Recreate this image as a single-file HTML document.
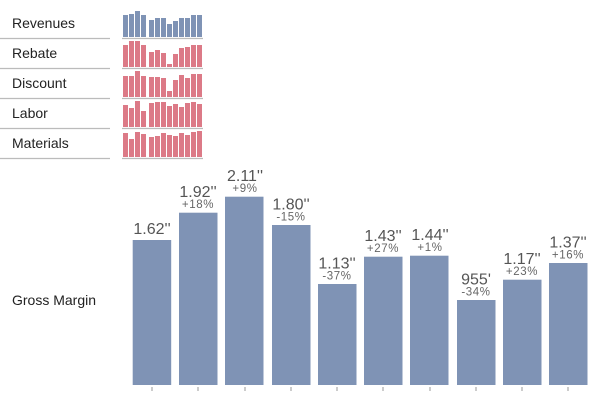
<!DOCTYPE html>
<html><head><meta charset="utf-8"><style>
html,body{margin:0;padding:0;background:#fff;}
svg{display:block;font-family:"Liberation Sans",sans-serif;}
</style></head><body>
<svg width="600" height="400" viewBox="0 0 600 400" xmlns="http://www.w3.org/2000/svg">
<g font-size="14" fill="#222">
<text x="12" y="28">Revenues</text>
<text x="12" y="58">Rebate</text>
<text x="12" y="88">Discount</text>
<text x="12" y="118">Labor</text>
<text x="12" y="148">Materials</text>
<text x="12" y="305" font-size="14">Gross Margin</text>
</g>
<g stroke="#bbb" stroke-width="1.2">
<line x1="0" x2="110" y1="38.5" y2="38.5"/><line x1="122" x2="203" y1="38.5" y2="38.5"/>
<line x1="0" x2="110" y1="68.5" y2="68.5"/><line x1="122" x2="203" y1="68.5" y2="68.5"/>
<line x1="0" x2="110" y1="98.5" y2="98.5"/><line x1="122" x2="203" y1="98.5" y2="98.5"/>
<line x1="0" x2="110" y1="128.5" y2="128.5"/><line x1="122" x2="203" y1="128.5" y2="128.5"/>
<line x1="0" x2="110" y1="158.5" y2="158.5"/><line x1="122" x2="203" y1="158.5" y2="158.5"/>
</g>
<g fill="#7f93b5">
<rect x="132.7" y="240" width="38.5" height="145"/>
<rect x="179" y="212.7" width="38.5" height="172.3"/>
<rect x="225" y="196.7" width="38.5" height="188.3"/>
<rect x="272" y="225" width="38.5" height="160"/>
<rect x="318" y="284" width="38.5" height="101"/>
<rect x="364" y="256.7" width="38.5" height="128.3"/>
<rect x="410" y="255.7" width="38.5" height="129.3"/>
<rect x="457" y="300" width="38.5" height="85"/>
<rect x="503" y="279.7" width="38.5" height="105.3"/>
<rect x="549" y="263" width="38.5" height="122"/>
</g>
<g stroke="#999" stroke-width="1">
<line x1="152" x2="152" y1="387" y2="391"/><line x1="198" x2="198" y1="387" y2="391"/>
<line x1="245" x2="245" y1="387" y2="391"/><line x1="291" x2="291" y1="387" y2="391"/>
<line x1="337" x2="337" y1="387" y2="391"/><line x1="383" x2="383" y1="387" y2="391"/>
<line x1="430" x2="430" y1="387" y2="391"/><line x1="476" x2="476" y1="387" y2="391"/>
<line x1="522" x2="522" y1="387" y2="391"/><line x1="568" x2="568" y1="387" y2="391"/>
</g>
<g fill="#555" text-anchor="middle" font-size="16">
<text x="152" y="234">1.62''</text>
<text x="198" y="197">1.92''</text>
<text x="245" y="181">2.11''</text>
<text x="291" y="209.5">1.80''</text>
<text x="337" y="268.5">1.13''</text>
<text x="383" y="241">1.43''</text>
<text x="430" y="240">1.44''</text>
<text x="476" y="284.5">955'</text>
<text x="522" y="264">1.17''</text>
<text x="568" y="247.5">1.37''</text>
</g>
<g fill="#666" text-anchor="middle" font-size="11.5" letter-spacing="0.6">
<text x="198" y="208">+18%</text>
<text x="245" y="192">+9%</text>
<text x="291" y="220.5">-15%</text>
<text x="337" y="279.5">-37%</text>
<text x="383" y="252">+27%</text>
<text x="430" y="251">+1%</text>
<text x="476" y="295.5">-34%</text>
<text x="522" y="275">+23%</text>
<text x="568" y="258.5">+16%</text>
</g>
<g fill="#7f93b5">
<rect x="123" y="15" width="5" height="22"/><rect x="129" y="14" width="5" height="23"/><rect x="135" y="11" width="5" height="26"/><rect x="141" y="15" width="5" height="22"/>
<rect x="149" y="20" width="5" height="17"/><rect x="155" y="18" width="5" height="19"/><rect x="161" y="18" width="5" height="19"/><rect x="167" y="24" width="5" height="13"/><rect x="173" y="21" width="5" height="16"/><rect x="179" y="18" width="5" height="19"/><rect x="185" y="18" width="5" height="19"/><rect x="191" y="15" width="5" height="22"/><rect x="197" y="15" width="5" height="22"/>
</g>
<g fill="#dc7a87">
<rect x="123" y="45" width="5" height="22"/><rect x="129" y="41" width="5" height="26"/><rect x="135" y="41" width="5" height="26"/><rect x="141" y="45" width="5" height="22"/>
<rect x="149" y="52" width="5" height="15"/><rect x="155" y="50" width="5" height="17"/><rect x="161" y="53" width="5" height="14"/><rect x="167" y="64" width="5" height="3"/><rect x="173" y="54" width="5" height="13"/><rect x="179" y="48" width="5" height="19"/><rect x="185" y="47" width="5" height="20"/><rect x="191" y="45" width="5" height="22"/><rect x="197" y="45" width="5" height="22"/>
<rect x="123" y="76" width="5" height="21"/><rect x="129" y="76" width="5" height="21"/><rect x="135" y="71" width="5" height="26"/><rect x="141" y="76" width="5" height="21"/>
<rect x="149" y="77" width="5" height="20"/><rect x="155" y="77" width="5" height="20"/><rect x="161" y="78" width="5" height="19"/><rect x="167" y="91" width="5" height="6"/><rect x="173" y="80" width="5" height="17"/><rect x="179" y="75" width="5" height="22"/><rect x="185" y="78" width="5" height="19"/><rect x="191" y="74" width="5" height="23"/><rect x="197" y="74" width="5" height="23"/>
<rect x="123" y="105" width="5" height="22"/><rect x="129" y="108" width="5" height="19"/><rect x="135" y="101" width="5" height="26"/><rect x="141" y="111" width="5" height="16"/>
<rect x="149" y="103" width="5" height="24"/><rect x="155" y="102" width="5" height="25"/><rect x="161" y="102" width="5" height="25"/><rect x="167" y="106" width="5" height="21"/><rect x="173" y="104" width="5" height="23"/><rect x="179" y="107" width="5" height="20"/><rect x="185" y="103" width="5" height="24"/><rect x="191" y="102" width="5" height="25"/><rect x="197" y="104" width="5" height="23"/>
<rect x="123" y="133" width="5" height="24"/><rect x="129" y="139" width="5" height="18"/><rect x="135" y="132" width="5" height="25"/><rect x="141" y="134" width="5" height="23"/>
<rect x="149" y="137" width="5" height="20"/><rect x="155" y="136" width="5" height="21"/><rect x="161" y="133" width="5" height="24"/><rect x="167" y="135" width="5" height="22"/><rect x="173" y="136" width="5" height="21"/><rect x="179" y="133" width="5" height="24"/><rect x="185" y="135" width="5" height="22"/><rect x="191" y="132" width="5" height="25"/><rect x="197" y="131" width="5" height="26"/>
</g>
</svg>
</body></html>
